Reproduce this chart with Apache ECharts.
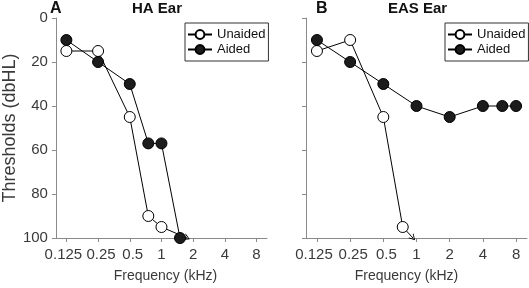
<!DOCTYPE html>
<html>
<head>
<meta charset="utf-8">
<script src="https://cdn.jsdelivr.net/npm/echarts@6/dist/echarts.min.js"></script>
<style>
    html, body {margin: 0; padding: 0; background: #fff;}
    #chart {width: 529px; height: 288px;}
</style>
</head>
<body>
<div id="chart"></div>
<script>
// tick positions (kHz) and their labels
const tickKHz = [0.125, 0.25, 0.5, 1, 2, 4, 8];
const tickLabels = ['0.125', '0.25', '0.5', '1', '2', '4', '8'];
const dbTicks = [0, 20, 40, 60, 80, 100];

// panel A: HA ear
const haUnaidedFreq = [0.125, 0.25, 0.5, 0.75, 1];
const haUnaided = [15, 15, 45, 90, 95];
const haAidedFreq = [0.125, 0.25, 0.5, 0.75, 1, 1.5];
const haAided = [10, 20, 30, 57, 57, 100];
const haArrowFreq = [1, 1.75];
const haArrowDb = [95, 100];

// panel B: EAS ear
const easUnaidedFreq = [0.125, 0.25, 0.5, 0.75];
const easUnaided = [15, 10, 45, 95];
const easAidedFreq = [0.125, 0.25, 0.5, 1, 2, 4, 6, 8];
const easAided = [10, 20, 30, 40, 45, 40, 40, 40];
const easArrowFreq = [0.75, 0.93];
const easArrowDb = [95, 100];

const font = 'Liberation Sans, Arial, sans-serif';
const axisGray = '#8a8a8a';
const textGray = '#3a3a3a';
const chevron = 'path://M0,10 L5,0 L10,10 L8.6,10 L5,2.8 L1.4,10 Z';

function pts(freqs, vals) {
    return freqs.map((f, i) => [Math.log2(f), vals[i]]);
}

function xAxisFor(gridIndex, namePad) {
    return {
        type: 'value',
        gridIndex: gridIndex,
        min: -3.33,
        max: 3.33,
        name: 'Frequency (kHz)',
        nameLocation: 'middle',
        nameGap: 31,
        nameTextStyle: {fontSize: 14, color: textGray, fontFamily: font, padding: namePad},
        axisLine: {show: true, onZero: false, lineStyle: {color: axisGray, width: 1}},
        axisTick: {show: true, inside: false, length: 4, lineStyle: {color: axisGray},
            customValues: tickKHz.map(v => Math.log2(v))},
        axisLabel: {
            fontSize: 15, color: textGray, fontFamily: font, margin: 9,
            hideOverlap: false,
            customValues: tickKHz.map(v => Math.log2(v)),
            formatter: function (value) {
                let i = tickKHz.findIndex(k => Math.abs(Math.log2(k) - value) < 1e-6);
                if (i < 0) return '';
                if (i === 0) return '{l|' + tickLabels[i] + '}';
                if (i <= 2) return '{r|' + tickLabels[i] + '}';
                return tickLabels[i];
            },
            rich: {
                l: {fontSize: 15, color: textGray, fontFamily: font, padding: [0, 6, 0, 0]},
                r: {fontSize: 15, color: textGray, fontFamily: font, padding: [0, 0, 0, 6]}
            }
        },
        splitLine: {show: false}
    };
}

function yAxisFor(gridIndex, showLabels) {
    return {
        type: 'value',
        gridIndex: gridIndex,
        inverse: true,
        min: 0,
        max: 100,
        interval: 20,
        name: showLabels ? 'Thresholds (dbHL)' : '',
        nameLocation: 'middle',
        nameGap: 28,
        nameTextStyle: {fontSize: 18, color: textGray, fontFamily: font},
        axisLine: {show: true, onZero: false, lineStyle: {color: axisGray, width: 1}},
        axisTick: {show: true, inside: false, length: 4, lineStyle: {color: axisGray}},
        axisLabel: {show: showLabels, fontSize: 15, color: textGray, fontFamily: font, margin: 8,
            formatter: v => dbTicks.indexOf(v) >= 0 ? String(v) : ''},
        splitLine: {show: false}
    };
}

function unaidedSeries(idx, freqs, vals, arrowFreq, arrowDb) {
    return {
        name: 'Unaided',
        type: 'line',
        xAxisIndex: idx,
        yAxisIndex: idx,
        data: pts(freqs, vals),
        symbol: 'circle',
        symbolSize: 11,
        lineStyle: {color: '#000', width: 1},
        itemStyle: {color: '#fff', borderColor: '#000', borderWidth: 1},
        z: 2,
        markLine: {
            silent: true,
            z: 1,
            symbol: ['none', chevron],
            symbolSize: [7, 6],
            label: {show: false},
            lineStyle: {color: '#000', width: 1, type: 'solid'},
            emphasis: {disabled: true},
            data: [[
                {coord: [Math.log2(arrowFreq[0]), arrowDb[0]]},
                {coord: [Math.log2(arrowFreq[1]), arrowDb[1]]}
            ]]
        }
    };
}

function aidedSeries(idx, freqs, vals) {
    return {
        name: 'Aided',
        type: 'line',
        xAxisIndex: idx,
        yAxisIndex: idx,
        data: pts(freqs, vals),
        symbol: 'circle',
        symbolSize: 11,
        lineStyle: {color: '#000', width: 1},
        itemStyle: {color: '#1c1c1c', borderColor: '#000', borderWidth: 1},
        z: 3
    };
}

function legendFor(left, top) {
    return {
        data: ['Unaided', 'Aided'],
        orient: 'vertical',
        left: left,
        top: top,
        itemWidth: 24,
        itemHeight: 11,
        itemGap: 0,
        padding: [4, 3, 4, 2],
        borderColor: '#333',
        borderWidth: 1,
        backgroundColor: '#fff',
        selectedMode: false,
        textStyle: {fontSize: 13, color: '#111', fontFamily: font, lineHeight: 15}
    };
}

const titleStyle = {fontSize: 15, fontWeight: 'bold', color: '#111', fontFamily: font};

const option = {
    animation: false,
    textStyle: {fontFamily: font},
    title: [
        {text: 'A', left: 50, top: 1, padding: 0, textStyle: Object.assign({}, titleStyle, {fontSize: 16})},
        {text: 'HA Ear', left: 132, top: 1, padding: 0, textStyle: titleStyle},
        {text: 'B', left: 316, top: 1, padding: 0, textStyle: Object.assign({}, titleStyle, {fontSize: 16})},
        {text: 'EAS Ear', left: 388, top: 1, padding: 0, textStyle: titleStyle}
    ],
    legend: [legendFor(185, 23), legendFor(445, 23)],
    grid: [
        {left: 45, right: 262, top: 18, bottom: 49, containLabel: false},
        {left: 306, right: 2, top: 18, bottom: 49, containLabel: false}
    ],
    xAxis: [xAxisFor(0, [0, 0, 0, 8]), xAxisFor(1, [0, 20, 0, 0])],
    yAxis: [yAxisFor(0, true), yAxisFor(1, false)],
    series: [
        unaidedSeries(0, haUnaidedFreq, haUnaided, haArrowFreq, haArrowDb),
        aidedSeries(0, haAidedFreq, haAided),
        unaidedSeries(1, easUnaidedFreq, easUnaided, easArrowFreq, easArrowDb),
        aidedSeries(1, easAidedFreq, easAided)
    ]
};

echarts.init(document.getElementById('chart'), null, {renderer: 'canvas'}).setOption(option);
</script>
</body>
</html>
